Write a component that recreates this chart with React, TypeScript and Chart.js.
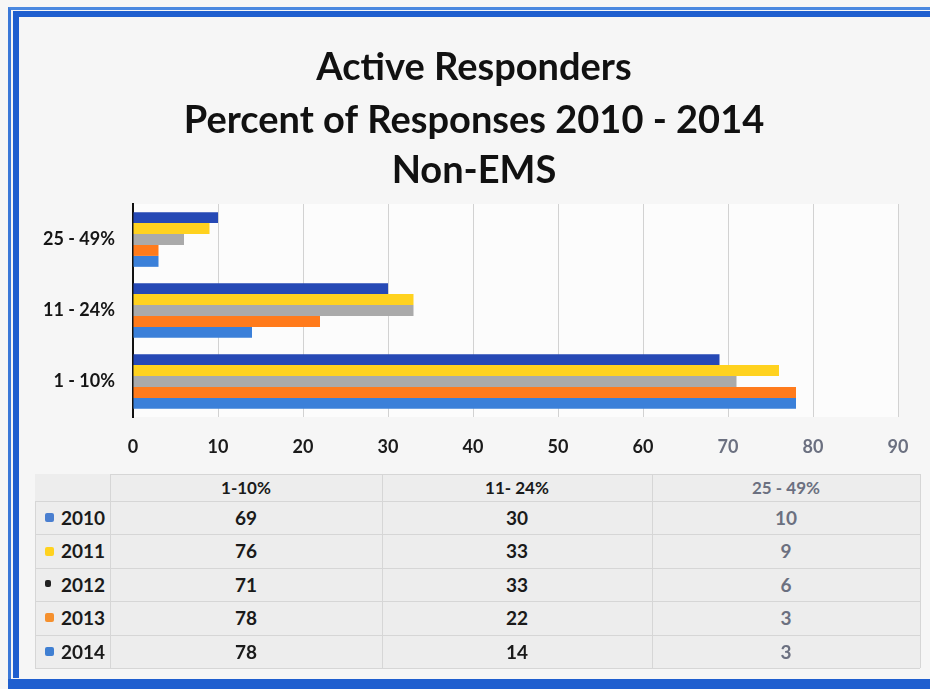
import React, { useEffect, useRef } from "react";
import { Chart, registerables } from "chart.js";

Chart.register(...registerables);

const titleLines = ["Active Responders", "Percent of Responses 2010 - 2014", "Non-EMS"];
const categories = ["1-10%", "11- 24%", "25 - 49%"];
const axisLabels = ["1 - 10%", "11 - 24%", "25 - 49%"];
const years = ["2010", "2011", "2012", "2013", "2014"];
const values2010 = [69, 30, 10];
const values2011 = [76, 33, 9];
const values2012 = [71, 33, 6];
const values2013 = [78, 22, 3];
const values2014 = [78, 14, 3];
const seriesValues = [values2010, values2011, values2012, values2013, values2014];
const barColors = ["#2649b5", "#ffd21f", "#aaaaaa", "#ff7b1c", "#3b80d9"];
const markerColors = ["#4a7fd0", "#ffd21f", "#222222", "#f5902e", "#3f7fd2"];
const xTicks = [0, 10, 20, 30, 40, 50, 60, 70, 80, 90];

const FONT = "Lato, 'Open Sans', sans-serif";

export default function App() {
  const canvasRef = useRef<HTMLCanvasElement | null>(null);

  useEffect(() => {
    const canvas = canvasRef.current;
    if (!canvas) return;
    const plotBg = {
      id: "plotBg",
      beforeDraw(chart: any) {
        const { ctx, chartArea } = chart;
        ctx.save();
        ctx.fillStyle = "#fcfcfc";
        ctx.fillRect(chartArea.left, chartArea.top, chartArea.right - chartArea.left, chartArea.bottom - chartArea.top);
        ctx.restore();
      },
    };
    const titleCenters = [68, 121, 171];
    const titleDraw = {
      id: "titleDraw",
      afterDraw(chart: any) {
        const { ctx } = chart;
        ctx.save();
        ctx.fillStyle = "#111";
        ctx.font = "bold 38px " + FONT;
        ctx.textAlign = "center";
        ctx.textBaseline = "middle";
        titleLines.forEach((t, i) => ctx.fillText(t, 474, titleCenters[i]));
        ctx.restore();
      },
    };
    const chart = new Chart(canvas, {
      type: "bar",
      data: {
        labels: axisLabels,
        datasets: years.map((y, i) => ({
          label: y,
          data: seriesValues[i],
          backgroundColor: barColors[i],
          borderWidth: 0,
          categoryPercentage: 0.77,
          barPercentage: 1,
        })),
      },
      options: {
        indexAxis: "y",
        responsive: false,
        animation: false,
        layout: { padding: { left: 0, right: 32, top: 204, bottom: 0 } },
        plugins: {
          legend: { display: false },
          tooltip: { enabled: false },
          title: { display: false },
        },
        scales: {
          x: {
            min: 0,
            max: 90,
            afterBuildTicks: (s: any) => {
              s.ticks = xTicks.map((v) => ({ value: v }));
            },
            afterFit: (s: any) => {
              s.height = 48;
            },
            ticks: {
              font: { family: FONT, size: 18, weight: "bold" },
              color: (c: any) => (c.tick && c.tick.value >= 70 ? "#6b7080" : "#1a1a1a"),
              padding: 19,
            },
            grid: { color: "#d2d2d2", drawTicks: false, lineWidth: 1 },
            border: { display: false },
          },
          y: {
            reverse: true,
            afterFit: (s: any) => {
              s.width = 133;
            },
            ticks: {
              font: { family: FONT, size: 18, weight: "bold" },
              color: "#151515",
              padding: 18,
            },
            grid: { display: false, drawTicks: false },
            border: { color: "#111", width: 2 },
          },
        },
      } as any,
      plugins: [plotBg, titleDraw],
    });
    return () => chart.destroy();
  }, []);

  const colLeft = [110, 382, 652];
  const colRight = [382, 652, 920];
  const headerTop = 474;
  const headerH = 27;
  const rowH = 33.4;
  const tableBottom = headerTop + headerH + rowH * years.length;

  return (
    <div
      style={{
        position: "absolute",
        left: 0,
        top: 0,
        width: 930,
        height: 689,
        overflow: "hidden",
        background: "#f6f6f6",
        fontFamily: FONT,
      }}
    >
      {/* table background */}
      <div
        style={{
          position: "absolute",
          left: 35,
          top: headerTop,
          width: 920 - 35,
          height: tableBottom - headerTop,
          background: "#ededed",
        }}
      />
      <canvas ref={canvasRef} width={930} height={465} style={{ position: "absolute", left: 0, top: 0 }} />

      {/* table horizontal lines */}
      {[headerTop, ...years.map((_, i) => headerTop + headerH + rowH * i), tableBottom].map((y, i) => (
        <div
          key={"h" + i}
          style={{
            position: "absolute",
            left: i === 0 ? 110 : 35,
            top: Math.round(y),
            width: i === 0 ? 810 : 885,
            height: 1,
            background: "#d6d6d6",
          }}
        />
      ))}
      {/* table vertical lines */}
      {[35, 110, 382, 652, 920].map((x, i) => (
        <div
          key={"v" + i}
          style={{
            position: "absolute",
            left: x,
            top: i === 0 ? headerTop + headerH : headerTop,
            width: 1,
            height: i === 0 ? tableBottom - headerTop - headerH : tableBottom - headerTop,
            background: "#d6d6d6",
          }}
        />
      ))}
      {/* header labels */}
      {categories.map((c, j) => (
        <div
          key={"c" + j}
          style={{
            position: "absolute",
            left: colLeft[j],
            width: colRight[j] - colLeft[j],
            top: headerTop,
            height: headerH,
            lineHeight: headerH + "px",
            textAlign: "center",
            fontSize: 17,
            fontWeight: "bold",
            color: j === 2 ? "#6b7080" : "#1a1a1a",
          }}
        >
          {c}
        </div>
      ))}
      {/* rows */}
      {years.map((y, i) => (
        <React.Fragment key={"r" + i}>
          <div
            style={{
              position: "absolute",
              left: 45,
              top: Math.round(headerTop + headerH + rowH * i + rowH / 2 - 4.5),
              width: i === 2 ? 6 : 9,
              height: i === 2 ? 7 : 9,
              borderRadius: 2,
              background: markerColors[i],
            }}
          />
          <div
            style={{
              position: "absolute",
              left: 61,
              top: headerTop + headerH + rowH * i,
              height: rowH,
              lineHeight: rowH + "px",
              fontSize: 19,
              fontWeight: "bold",
              color: "#1a1a1a",
            }}
          >
            {y}
          </div>
          {categories.map((_, j) => (
            <div
              key={"d" + j}
              style={{
                position: "absolute",
                left: colLeft[j],
                width: colRight[j] - colLeft[j],
                top: headerTop + headerH + rowH * i,
                height: rowH,
                lineHeight: rowH + "px",
                textAlign: "center",
                fontSize: 19,
                fontWeight: "bold",
                color: j === 2 ? "#6b7080" : "#1a1a1a",
              }}
            >
              {seriesValues[i][j]}
            </div>
          ))}
        </React.Fragment>
      ))}

      {/* blue frame */}
      <div
        style={{
          position: "absolute",
          left: 8,
          top: 7,
          width: 1000,
          height: 700,
          borderLeft: "3px solid #3a78d8",
          borderTop: "3px solid #4a88e0",
          boxSizing: "border-box",
        }}
      />
      <div
        style={{
          position: "absolute",
          left: 13,
          top: 11,
          width: 1000,
          height: 678 - 11,
          borderLeft: "6px solid #1f5fcf",
          borderTop: "6px solid #1f5fcf",
          boxSizing: "border-box",
        }}
      />
      <div
        style={{
          position: "absolute",
          left: 8,
          top: 679,
          width: 930,
          height: 10,
          background: "#1f5fcf",
        }}
      />
    </div>
  );
}
